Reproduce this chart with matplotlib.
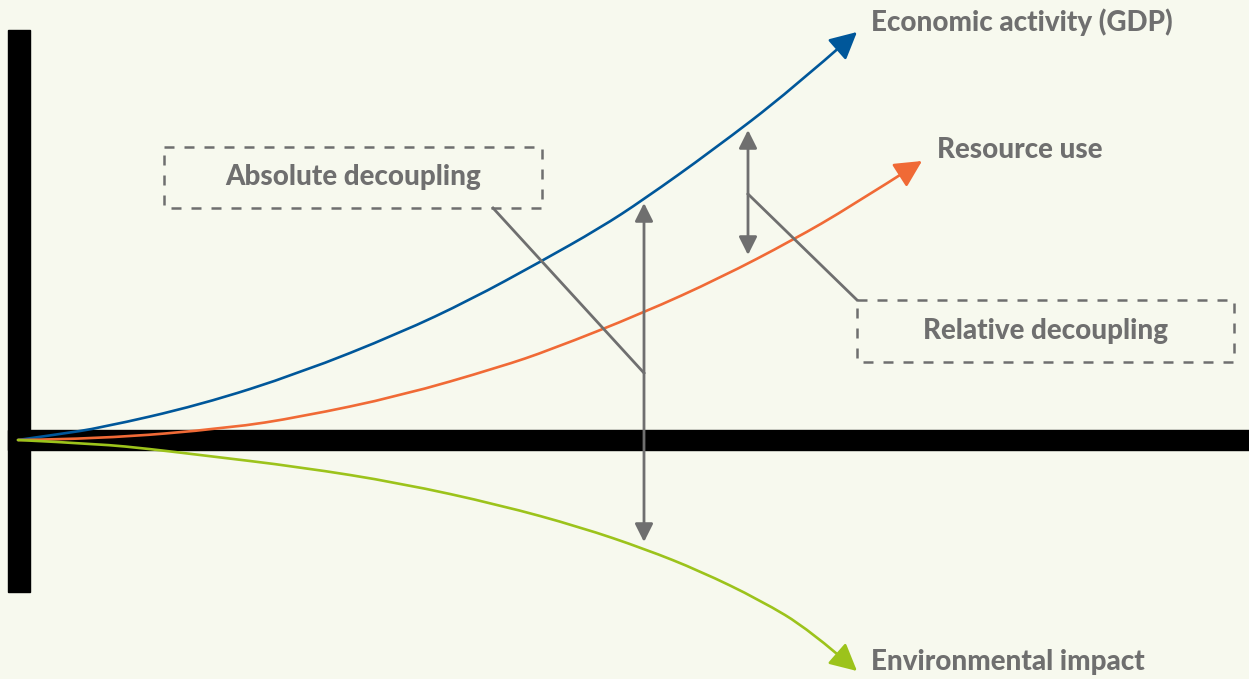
import matplotlib.pyplot as plt
from matplotlib.patches import Rectangle, FancyArrowPatch
from matplotlib.path import Path

# curve points (pixel coords, y down)
gdp_x = [18, 60, 100, 200, 300, 400, 470, 540, 600, 643, 713, 790, 857]
gdp_y = [440, 434, 428, 405, 373, 333, 300, 262, 228, 200, 150, 91, 32]

res_x = [18, 100, 230, 300, 400, 500, 550, 643, 720, 793, 850, 922]
res_y = [440, 439, 428, 417, 396, 367, 350, 313, 278, 240, 207, 161]

env_x = [18, 100, 150, 200, 300, 400, 500, 580, 645, 700, 760, 810, 857]
env_y = [440, 444, 449, 455, 467, 483, 505, 527, 549, 571, 600, 630, 671]

labels = ["Economic activity (GDP)", "Resource use", "Environmental impact"]
colors = ["#00579a", "#f06a36", "#9cc31b"]

box_texts = ["Absolute decoupling", "Relative decoupling"]

BG = "#f7f9ee"
GREY = "#6f6f6f"
FONT = "Lato"
FS = 20


def smooth_path(xs, ys):
    # quadratic b-spline style path: read points act as control points
    pts = list(zip(xs, ys))
    verts = [pts[0]]
    codes = [Path.MOVETO]
    for i in range(1, len(pts) - 2):
        mid = ((pts[i][0] + pts[i + 1][0]) / 2, (pts[i][1] + pts[i + 1][1]) / 2)
        verts += [pts[i], mid]
        codes += [Path.CURVE3, Path.CURVE3]
    verts += [pts[-2], pts[-1]]
    codes += [Path.CURVE3, Path.CURVE3]
    return Path(verts, codes)


fig = plt.figure(figsize=(12.49, 6.79), dpi=100, facecolor=BG)
ax = fig.add_axes([0, 0, 1, 1])
ax.set_facecolor(BG)
ax.set_xlim(0, 1249)
ax.set_ylim(679, 0)
ax.axis("off")

# thick black axes
ax.add_patch(Rectangle((8, 30), 22, 562, color="black", zorder=1))
ax.add_patch(Rectangle((8, 430), 1241, 20, color="black", zorder=1))

series = [(gdp_x, gdp_y), (res_x, res_y), (env_x, env_y)]
for (xs, ys), c in zip(series, colors):
    arr = FancyArrowPatch(path=smooth_path(xs, ys),
                          arrowstyle="-|>,head_length=0.55,head_width=0.28",
                          mutation_scale=30, color=c, lw=1.9, zorder=3)
    ax.add_patch(arr)

# series labels
ax.text(871, 22, labels[0], color=GREY, fontsize=FS, fontweight="black",
        family=FONT, va="center", ha="left")
ax.text(937, 150, labels[1], color=GREY, fontsize=FS, fontweight="black",
        family=FONT, va="center", ha="left")
ax.text(871, 662, labels[2], color=GREY, fontsize=FS, fontweight="black",
        family=FONT, va="center", ha="left")

# decoupling double arrows
dbl = dict(arrowstyle="<|-|>,head_length=0.5,head_width=0.25", color=GREY,
           lw=2, mutation_scale=22, shrinkA=0, shrinkB=0)
ax.annotate("", xy=(644, 203), xytext=(644, 542), arrowprops=dbl, zorder=4)
ax.annotate("", xy=(748, 130), xytext=(748, 255), arrowprops=dbl, zorder=4)

# leader lines
ax.plot([493, 644], [208, 373], color=GREY, lw=2, zorder=4)
ax.plot([857, 748], [300, 194], color=GREY, lw=2, zorder=4)

# dashed label boxes
for (x0, y0, w, h), t in zip([(164, 147, 378, 61), (857, 300, 377, 62)], box_texts):
    ax.add_patch(Rectangle((x0, y0), w, h, fill=False, edgecolor=GREY, lw=1.8,
                           linestyle=(0, (4, 4)), zorder=4))
    ax.text(x0 + w / 2, y0 + h / 2, t, color=GREY, fontsize=FS,
            fontweight="black", family=FONT, ha="center", va="center")

fig.savefig("out.png", dpi=100, facecolor=BG)
